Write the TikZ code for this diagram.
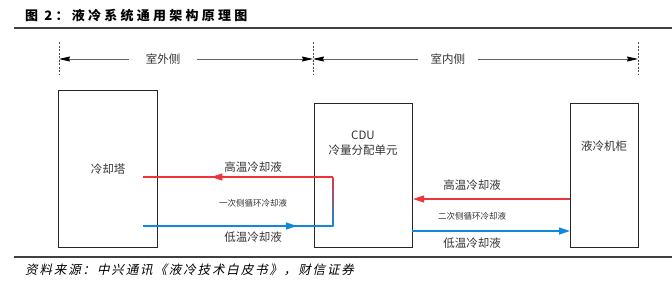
\documentclass[tikz,border=0pt]{standalone}
\usepackage{fontspec}
\setmainfont{Noto Sans CJK SC}
\newfontfamily\xieti[FakeSlant=0.22]{Noto Sans CJK SC}
\usetikzlibrary{arrows.meta, positioning, decorations.markings}
\definecolor{hongse}{RGB}{238, 52, 56}
\definecolor{lanse}{RGB}{18, 136, 218}
\definecolor{wenzi}{RGB}{51, 51, 51}

\begin{document}
\begin{tikzpicture}[
    x=1pt, y=-1pt,
    font=\fontsize{11.5}{15}\selectfont,
    xiang/.style={draw=black!85, line width=1.1pt, fill=white, anchor=north west,
                  inner sep=0pt, text=wenzi},
    biaoqian/.style={text=wenzi, inner sep=1pt},
    xiaozi/.style={text=wenzi, inner sep=1pt, font=\fontsize{8.5}{10}\selectfont},
    xuxian/.style={black!70, line width=0.6pt, dash pattern=on 2pt off 1.5pt},
    chicun/.style={black!60, line width=0.8pt, {Stealth[length=11pt, width=5pt, inset=1pt, black]}-{Stealth[length=11pt, width=5pt, inset=1pt, black]}},
    liu/.style={line width=1.2pt},
    jiantou/.style={-{Triangle[length=11pt, width=7pt]}},
    jiantouzhong/.style={postaction={decorate}, decoration={markings,
                  mark=at position #1 with {\arrow{Triangle[length=11pt, width=7pt]}}}}
  ]
    \useasboundingbox (0,0) rectangle (672,301);
    % biaoti he hengxian
    \node[anchor=west, inner sep=0pt,
          font=\fontsize{13}{15}\selectfont\bfseries\addfontfeature{LetterSpace=25}] (biaoti) at (25,16) {图 2：液冷系统通用架构原理图};
    \draw[line width=2pt, black!75] (14,28) -- (672,28);
    \draw[line width=2pt, black!75] (14,257) -- (672,257);
    \node[anchor=west, inner sep=0pt,
          font=\xieti\fontsize{12.5}{14}\selectfont\addfontfeature{LetterSpace=15}] (laiyuan) at (25,270) {资料来源：中兴通讯《液冷技术白皮书》，财信证券};
    % shiwai / shinei
    \foreach \x/\n in {59/1, 313/2, 638/3} {
      \draw[xuxian] (\x,42) -- (\x,74);
      \coordinate (m\n) at (\x,59);
    }
    \draw[chicun] (m1) -- node[pos=0.41, biaoqian, fill=white, inner xsep=17pt] {室外侧} (m2);
    \draw[chicun] (m2) -- node[pos=0.415, biaoqian, fill=white, inner xsep=13pt] {室内侧} (m3);
    % san ge kuang
    \node[xiang, minimum width=99, minimum height=157] (ta) at (58,90) {冷却塔};
    \node[xiang, minimum width=98, minimum height=144] (cdu) at (314,103) {};
    \node[xiang, minimum width=68, minimum height=144] (jigui) at (570,103) {};
    \node[biaoqian, align=center] (cdu-wz) at (363,143.5) {CDU\\冷量分配单元};
    \node[biaoqian] (jigui-wz) at (604,146) {液冷机柜};
    % yici ce
    \coordinate (h1) at (143,177);
    \coordinate (h2) at (333,177);
    \coordinate (d1) at (143,226);
    \coordinate (d2) at (333,226);
    \draw[liu, hongse, jiantouzhong=0.64] (h2) -- (h1);
    \draw[liu, lanse, jiantouzhong=0.81] (d1) -- (d2);
    \shade[top color=hongse, bottom color=lanse] ([xshift=-0.6pt]h2) rectangle ([xshift=0.6pt]d2);
    \node[biaoqian] at (253,167) {高温冷却液};
    \node[xiaozi] at (253,203) {一次侧循环冷却液};
    \node[biaoqian] at (253,237) {低温冷却液};
    % erci ce
    \coordinate (gw) at (570,199);
    \coordinate (dw) at (412,231);
    \draw[liu, hongse, jiantou] (gw) -- (gw -| cdu.east);
    \draw[liu, lanse, jiantou] (dw) -- (dw -| jigui.west);
    \node[biaoqian] at (472,185) {高温冷却液};
    \node[xiaozi] at (472,216) {二次侧循环冷却液};
    \node[biaoqian] at (472,243) {低温冷却液};
  \end{tikzpicture}
\end{document}
